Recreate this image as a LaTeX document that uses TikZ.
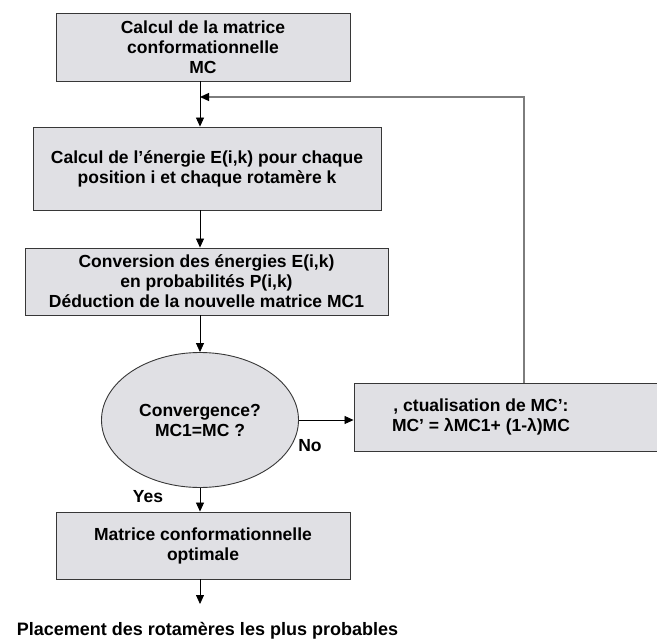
\documentclass[tikz,border=0pt]{standalone}
\usepackage{fontspec}
\setmainfont{Liberation Sans}
\usetikzlibrary{arrows.meta,shapes.geometric}
\definecolor{boxfill}{RGB}{224,224,228}
\definecolor{boxline}{RGB}{55,55,55}
\definecolor{fbline}{RGB}{125,125,125}
\begin{document}
\begin{tikzpicture}[x=1bp,y=-1bp,
  every node/.style={font=\fontsize{17.5bp}{20bp}\selectfont\bfseries},
  procbox/.style={draw=boxline, fill=boxfill, line width=0.9bp, align=center, inner sep=0pt},
  decision/.style={ellipse, draw=boxline, fill=boxfill, line width=0.9bp, align=center, inner sep=0pt, minimum width=197bp, minimum height=135bp},
  flow/.style={line width=0.8bp, -{Triangle[width=8bp,length=9bp]}},
  feedback/.style={draw=fbline, line width=1.3bp, -{Triangle[width=8bp,length=9bp,color=black]}}
]
\useasboundingbox (0,0) rectangle (657,641);

\node[procbox, minimum width=294bp, minimum height=68bp] (b1) at (203,47)
  {Calcul de la matrice\\conformationnelle\\MC};
\node[procbox, minimum width=348bp, minimum height=83bp] (b2) at (207,168.5)
  {Calcul de l’énergie E(i,k) pour chaque\\position i et chaque rotamère k};
\node[procbox, minimum width=363bp, minimum height=67bp] (b3) at (206.5,281.5)
  {Conversion des énergies E(i,k)\\en probabilités P(i,k)\\Déduction de la nouvelle matrice MC1};
\node[decision] (ell) at (200,420) {Convergence?\\MC1=MC ?};
\node[procbox, minimum width=308bp, minimum height=68bp] (act) at (508,417) {};
\node[align=center, inner sep=0pt] (acttext) at (481,417)
  {, ctualisation de MC’:\\MC’ = λMC1+ (1-λ)MC};
\node[procbox, minimum width=294bp, minimum height=67bp] (b5) at (203,545.5)
  {Matrice conformationnelle\\optimale};
\node[inner sep=0pt, font=\fontsize{18bp}{20bp}\selectfont\bfseries] (place) at (207.5,631)
  {Placement des rotamères les plus probables};
\node[inner sep=0pt] (no) at (310,446) {No};
\node[inner sep=0pt] (yes) at (148,497) {Yes};

\coordinate (join) at (200,97);
\coordinate (pend) at (200,604);

\draw[flow] (b1.south -| ell.center) -- (b2.north -| ell.center);
\draw[flow] (b2.south -| ell.center) -- (b3.north -| ell.center);
\draw[flow] (b3.south -| ell.center) -- (ell.north);
\draw[flow] (ell.east) -- (ell.east -| act.west);
\draw[flow] (ell.south) -- (b5.north -| ell.center);
\draw[flow] (b5.south -| ell.center) -- (pend);
\draw[feedback] ([xshift=16bp]act.north) |- (join);
\end{tikzpicture}
\end{document}
